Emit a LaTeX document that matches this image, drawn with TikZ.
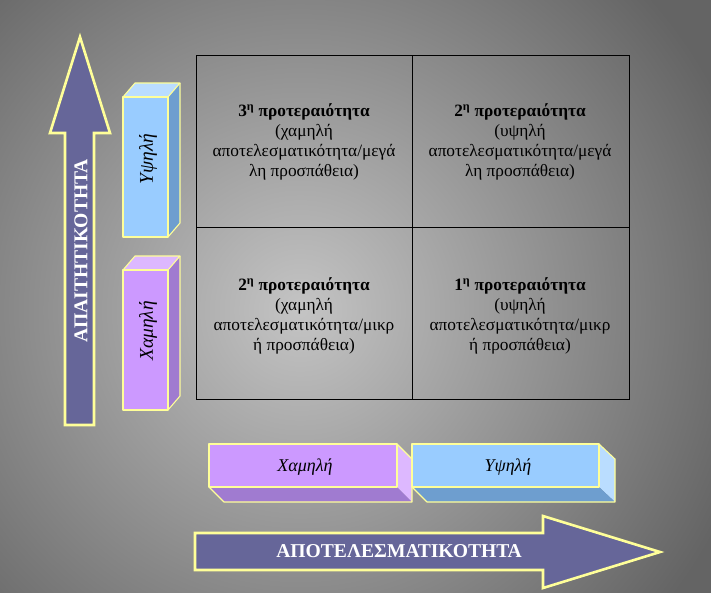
\documentclass[tikz,border=0pt]{standalone}
\usepackage{fontspec}
\setmainfont{Liberation Serif}
\definecolor{bgin}{HTML}{C4C4C4}
\definecolor{bgout}{HTML}{646464}
\definecolor{arrowfill}{HTML}{666699}
\definecolor{edgeY}{HTML}{FFFF99}
\definecolor{bluefront}{HTML}{99CCFF}
\definecolor{bluetop}{HTML}{BADDFF}
\definecolor{blueside}{HTML}{6E9ECF}
\definecolor{purfront}{HTML}{CC99FF}
\definecolor{purtop}{HTML}{DDB8FF}
\definecolor{purside}{HTML}{A07BD0}
\tikzset{
  bigarrow/.style={fill=arrowfill, draw=edgeY, line width=2.6pt, line join=miter},
  face/.style={draw=edgeY, line width=1.1pt, line join=round},
  celltext/.style={align=center, font=\fontsize{17.3}{20}\selectfont, text=black},
  boxtext/.style={font=\fontsize{18}{20}\selectfont\itshape, text=black},
  vboxtext/.style={font=\fontsize{19.5}{20}\selectfont\itshape, text=black, rotate=90},
  arrowtext/.style={font=\fontsize{19.6}{22}\selectfont\bfseries, text=white},
}
\begin{document}
\begin{tikzpicture}[x=1pt, y=-1pt]
\useasboundingbox (0,0) rectangle (711,592);
% background
\begin{scope}
\clip (0,0) rectangle (711,592);
\shade[inner color=bgin, outer color=bgout] (-170,-160) rectangle (770,780);
\end{scope}
% grid
\draw[black, line width=0.9pt] (196,55) rectangle (629,399);
\draw[black, line width=0.9pt] (412,55) -- (412,399);
\draw[black, line width=0.9pt] (196,227) -- (629,227);
\node[celltext] (q3) at (304,142) {\textbf{3\textsuperscript{η} προτεραιότητα}\\(χαμηλή\\αποτελεσματικότητα/μεγά\\λη προσπάθεια)};
\node[celltext] (q2a) at (520,142) {\textbf{2\textsuperscript{η} προτεραιότητα}\\(υψηλή\\αποτελεσματικότητα/μεγά\\λη προσπάθεια)};
\node[celltext] (q2b) at (304,316) {\textbf{2\textsuperscript{η} προτεραιότητα}\\(χαμηλή\\αποτελεσματικότητα/μικρ\\ή προσπάθεια)};
\node[celltext] (q1) at (520,316) {\textbf{1\textsuperscript{η} προτεραιότητα}\\(υψηλή\\αποτελεσματικότητα/μικρ\\ή προσπάθεια)};
% vertical arrow
\draw[bigarrow] (65,425) -- (65,133) -- (50,133) -- (80,37) -- (110,133) -- (94,133) -- (94,425) -- cycle;
\node[arrowtext, rotate=90] (va) at (81,251) {ΑΠΑΙΤΗΤΙΚΟΤΗΤΑ};
% horizontal arrow
\draw[bigarrow] (195,533) -- (543,533) -- (543,516) -- (660,552) -- (543,588) -- (543,570) -- (195,570) -- cycle;
\node[arrowtext] (ha) at (399,551) {ΑΠΟΤΕΛΕΣΜΑΤΙΚΟΤΗΤΑ};
% vertical cuboids
\fill[bluefront] (123,97) rectangle (168,237);
\fill[bluetop] (123,97) -- (135,83) -- (180,83) -- (168,97) -- cycle;
\fill[blueside] (168,97) -- (180,83) -- (180,223) -- (168,237) -- cycle;
\draw[face] (123,97) rectangle (168,237);
\draw[face] (123,97) -- (135,83) -- (180,83) -- (168,97);
\draw[face] (180,83) -- (180,223) -- (168,237);
\node[vboxtext] (vb) at (148,159) {Υψηλή};
\fill[purfront] (123,270) rectangle (168,410);
\fill[purtop] (123,270) -- (135,256) -- (180,256) -- (168,270) -- cycle;
\fill[purside] (168,270) -- (180,256) -- (180,396) -- (168,410) -- cycle;
\draw[face] (123,270) rectangle (168,410);
\draw[face] (123,270) -- (135,256) -- (180,256) -- (168,270);
\draw[face] (180,256) -- (180,396) -- (168,410);
\node[vboxtext] (vp) at (148,331) {Χαμηλή};
% horizontal cuboids
\fill[purfront] (209,444) rectangle (397,487);
\fill[purtop] (397,444) -- (412,459) -- (412,502) -- (397,487) -- cycle;
\fill[purside] (209,487) -- (397,487) -- (412,502) -- (224,502) -- cycle;
\draw[face] (209,444) rectangle (397,487);
\draw[face] (397,444) -- (412,459) -- (412,502) -- (224,502) -- (209,487);
\node[boxtext] (hp) at (305,467) {Χαμηλή};
\fill[bluefront] (412,444) rectangle (599,487);
\fill[bluetop] (599,444) -- (615,459) -- (615,502) -- (599,487) -- cycle;
\fill[blueside] (412,487) -- (599,487) -- (615,502) -- (427,502) -- cycle;
\draw[face] (412,444) rectangle (599,487);
\draw[face] (599,444) -- (615,459) -- (615,502) -- (427,502) -- (412,487);
\node[boxtext] (hb) at (508,467) {Υψηλή};
\end{tikzpicture}
\end{document}
